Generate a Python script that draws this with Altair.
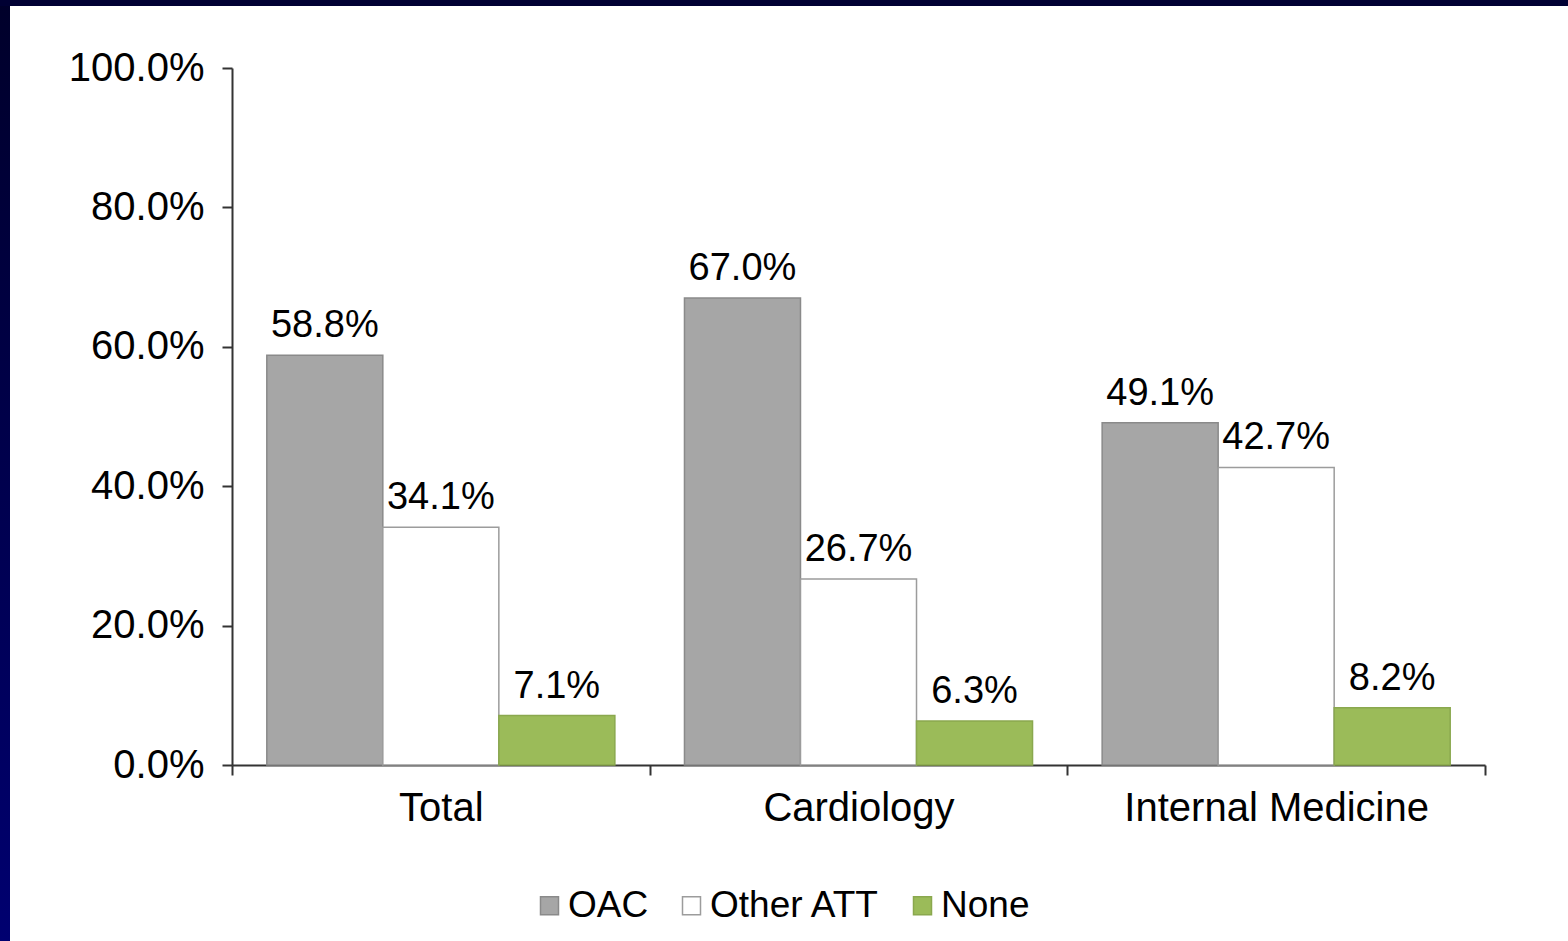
import altair as alt
import pandas as pd

# Share of patients by prescribed antithrombotic therapy, per department
categories = ["Total", "Cardiology", "Internal Medicine"]
series = ["OAC", "Other ATT", "None"]
oac = [58.8, 67.0, 49.1]
other_att = [34.1, 26.7, 42.7]
none_therapy = [7.1, 6.3, 8.2]

fill_colors = ["#A6A6A6", "#FFFFFF", "#9BBB59"]
stroke_colors = ["#8A8A8A", "#9C9C9C", "#8AA84E"]

rows = []
for i, cat in enumerate(categories):
    for name, vals in zip(series, [oac, other_att, none_therapy]):
        rows.append({"category": cat, "series": name, "pct": vals[i]})
df = pd.DataFrame(rows)

FONT = "Liberation Sans"
W, H = 1253, 697

base = alt.Chart(df).transform_calculate(share="datum.pct / 100")

x_enc = alt.X(
    "category:N",
    sort=categories,
    title=None,
    scale=alt.Scale(paddingInner=0, paddingOuter=0),
    axis=alt.Axis(labelAngle=0, tickBand="extent", labelPadding=13, labelLimit=0),
)
xo_enc = alt.XOffset(
    "series:N", sort=series, scale=alt.Scale(paddingInner=0, paddingOuter=0.3)
)
y_enc = alt.Y(
    "share:Q",
    title=None,
    scale=alt.Scale(domain=[0, 1], nice=False),
    axis=alt.Axis(format=".1%", values=[0, 0.2, 0.4, 0.6, 0.8, 1.0], grid=False,
                  labelPadding=18),
)

bars = base.mark_bar(strokeWidth=1.5).encode(
    x=x_enc,
    xOffset=xo_enc,
    y=y_enc,
    fill=alt.Fill(
        "series:N",
        sort=series,
        scale=alt.Scale(domain=series, range=fill_colors),
        legend=alt.Legend(
            title=None,
            orient="none",
            legendX=299,
            legendY=819,
            direction="horizontal",
            symbolType="square",
            symbolSize=324,
            symbolStrokeColor="#8A8A8A",
            symbolStrokeWidth=1.5,
            labelFont=FONT,
            labelFontSize=37,
            labelColor="#000000",
            labelOffset=0,
            columnPadding=24,
            labelLimit=0,
        ),
    ),
    stroke=alt.Stroke(
        "series:N",
        sort=series,
        scale=alt.Scale(domain=series, range=stroke_colors),
        legend=None,
    ),
)

labels = base.mark_text(
    baseline="alphabetic", dy=-18, fontSize=38, font=FONT, color="#000000"
).encode(
    x=x_enc,
    xOffset=xo_enc,
    y=y_enc,
    text=alt.Text("share:Q", format=".1%"),
)

# Dark slide frame along the top and left edges
frame_df = pd.DataFrame({"k": [0]})
left_strip = alt.Chart(frame_df).mark_rect(
    color=alt.Gradient(
        gradient="linear",
        stops=[
            alt.GradientStop(color="#00002A", offset=0),
            alt.GradientStop(color="#000070", offset=1),
        ],
        x1=0, x2=0, y1=0, y2=1,
    )
).encode(x=alt.value(-232), x2=alt.value(-222), y=alt.value(-68), y2=alt.value(873))
top_strip = alt.Chart(frame_df).mark_rect(color="#000033").encode(
    x=alt.value(-232), x2=alt.value(1336), y=alt.value(-68), y2=alt.value(-62)
)

chart = (
    alt.layer(bars, labels, left_strip, top_strip)
    .properties(
        width=W,
        height=H,
        padding={"left": 232, "top": 68, "right": 83, "bottom": 176},
        autosize=alt.AutoSizeParams(type="none"),
        background="#FFFFFF",
    )
    .configure_view(stroke=None)
    .configure_axis(
        domainColor="#333333",
        domainWidth=2,
        tickColor="#333333",
        tickWidth=2,
        tickSize=10,
        labelFont=FONT,
        labelColor="#000000",
    )
    .configure_axisX(labelFontSize=40)
    .configure_axisY(labelFontSize=40)
)

chart.save("out.html", embed_options={"renderer": "svg", "actions": False})
